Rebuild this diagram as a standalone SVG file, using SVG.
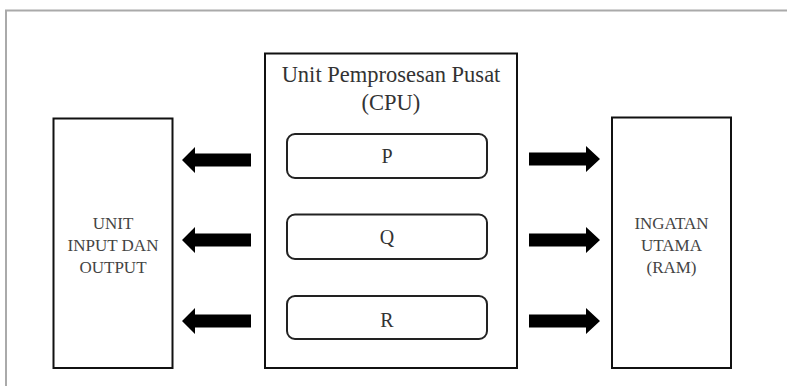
<svg xmlns="http://www.w3.org/2000/svg" width="787" height="386" viewBox="0 0 787 386">
<defs>
<style>
.box{fill:#fff;stroke:#111;stroke-width:2}
.sub{fill:#fff;stroke:#222;stroke-width:2}
.t{font-family:"Liberation Serif","Times New Roman",serif;text-anchor:middle;fill:#333}
.s{font-size:17px;fill:#444}
.arr{fill:#000}
</style>
</defs>
<rect width="787" height="386" fill="#fff"/>
<path d="M6,387 V10.5 H788" fill="none" stroke="#aaa" stroke-width="2"/>
<g id="io">
<rect class="box" x="53.5" y="118.5" width="119" height="249.5"/>
<text class="t s" x="113" y="229">UNIT</text>
<text class="t s" x="113" y="251">INPUT DAN</text>
<text class="t s" x="113" y="273">OUTPUT</text>
</g>
<g id="cpu">
<rect class="box" x="265" y="53.5" width="252" height="314.5"/>
<text class="t" x="391" y="82" font-size="22.5">Unit Pemprosesan Pusat</text>
<text class="t" x="391" y="110" font-size="22.5">(CPU)</text>
</g>
<g id="p">
<rect class="sub" x="287" y="134" width="200" height="44" rx="8"/>
<text class="t" x="387" y="163" font-size="20">P</text>
</g>
<g id="q">
<rect class="sub" x="287" y="214.5" width="200" height="44.5" rx="8"/>
<text class="t" x="387" y="244" font-size="20">Q</text>
</g>
<g id="r">
<rect class="sub" x="287" y="296" width="200" height="43" rx="8"/>
<text class="t" x="387" y="327" font-size="20">R</text>
</g>
<g id="ram">
<rect class="box" x="612" y="117.5" width="119" height="250.5"/>
<text class="t s" x="671.5" y="229">INGATAN</text>
<text class="t s" x="671.5" y="251">UTAMA</text>
<text class="t s" x="671.5" y="273">(RAM)</text>
</g>
<g id="connectors">
<polygon class="arr" points="251,153.5 195,153.5 195,147 182,160 195,173 195,166.5 251,166.5"/>
<polygon class="arr" points="251,233.5 195,233.5 195,227 182,240 195,253 195,246.5 251,246.5"/>
<polygon class="arr" points="251,314.5 195,314.5 195,308 182,321 195,334 195,327.5 251,327.5"/>
<polygon class="arr" points="529,152.5 586,152.5 586,146 600,159 586,172 586,165.5 529,165.5"/>
<polygon class="arr" points="529,233.5 586,233.5 586,227 600,240 586,253 586,246.5 529,246.5"/>
<polygon class="arr" points="529,314.5 586,314.5 586,308 600,321 586,334 586,327.5 529,327.5"/>
</g>
</svg>
